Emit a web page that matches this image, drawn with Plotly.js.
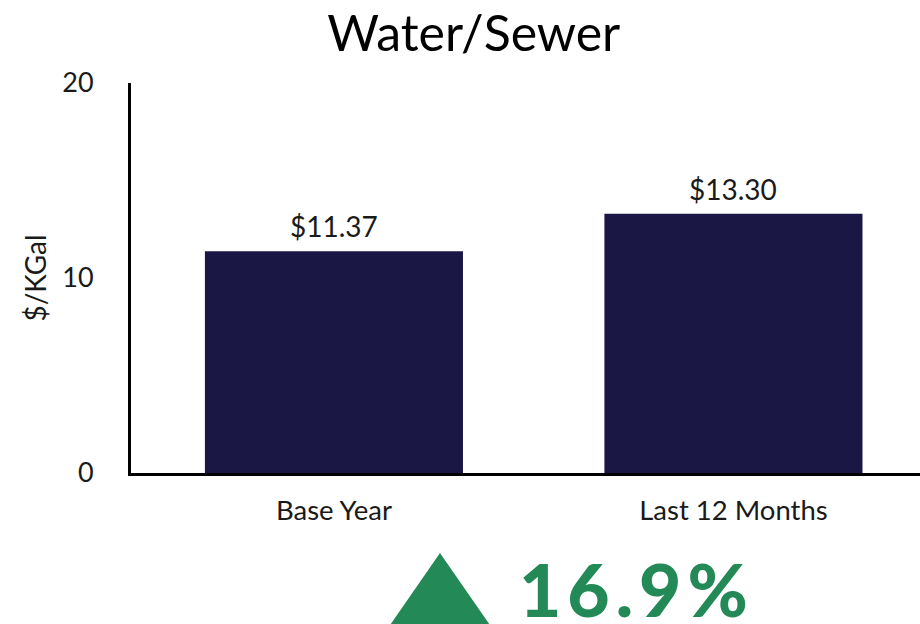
<!DOCTYPE html>
<html>
<head>
<meta charset="utf-8">
<script src="https://cdn.plot.ly/plotly-3.0.1.min.js"></script>
<style>
html,body{margin:0;padding:0;background:#fff;}
#chart{width:920px;height:624px;}
text.change-text{letter-spacing:6px;}
</style>
</head>
<body>
<div id="chart"></div>
<script>
const categories = ["Base Year", "Last 12 Months"];
const values = [11.37, 13.30];
const valueLabels = ["$11.37", "$13.30"];
const yTicks = [0, 10, 20];
const changeLabel = "16.9%";

const FONT = "Lato, 'Open Sans', sans-serif";
const TEXT = "#1a1a1a";

const trace = {
  type: "bar",
  x: categories,
  y: values,
  width: 0.646,
  marker: {color: "#1b1744"},
  hoverinfo: "skip"
};

const barLabels = categories.map((c, i) => ({
  x: c, y: values[i], xref: "x", yref: "y",
  text: valueLabels[i], showarrow: false,
  xanchor: "center", yanchor: "bottom", yshift: 6,
  font: {family: FONT, size: 28, color: TEXT}
}));

const layout = {
  width: 920, height: 624,
  margin: {l: 131, r: 0, t: 83, b: 151},
  paper_bgcolor: "#ffffff",
  plot_bgcolor: "#ffffff",
  showlegend: false,
  font: {family: FONT, color: TEXT},
  title: {
    text: "Water/Sewer",
    font: {family: FONT, size: 50, color: "#000000"},
    x: 0.515, xanchor: "center",
    y: 0.947, yanchor: "middle"
  },
  xaxis: {
    range: [-0.508, 1.467],
    showline: true, linecolor: "#000000", linewidth: 3,
    showgrid: false, zeroline: false, ticks: "",
    tickfont: {family: FONT, size: 27.5, color: TEXT},
    ticklabelstandoff: 11,
    fixedrange: true
  },
  yaxis: {
    range: [0, 20],
    tickvals: yTicks,
    showline: true, linecolor: "#000000", linewidth: 3,
    showgrid: false, zeroline: false, ticks: "",
    tickfont: {family: FONT, size: 27, color: TEXT},
    ticklabelstandoff: 29,
    title: {text: "$/KGal", font: {family: FONT, size: 28, color: TEXT}, standoff: 8},
    fixedrange: true
  },
  shapes: [{
    type: "path", xref: "paper", yref: "paper",
    path: "M 0.3283 -0.39 L 0.3916 -0.205 L 0.455 -0.39 Z",
    fillcolor: "#238a57", line: {width: 0}
  }],
  annotations: barLabels.concat([{
    xref: "paper", yref: "paper",
    x: 0.641, y: -0.297, xanchor: "center", yanchor: "middle",
    text: changeLabel,
    showarrow: false,
    font: {family: FONT, size: 73, weight: 900, color: "#238a57"}
  }])
};

Plotly.newPlot("chart", [trace], layout, {displayModeBar: false, staticPlot: true}).then(gd => {
  const anns = gd.querySelectorAll(".annotation-text");
  anns.forEach(t => { if (t.textContent === changeLabel) t.setAttribute("class", t.getAttribute("class") + " change-text"); });
});
</script>
</body>
</html>
